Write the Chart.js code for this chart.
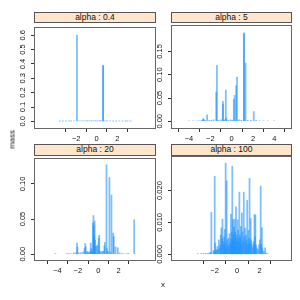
<!DOCTYPE html>
<html>
<head>
<meta charset="utf-8">
<script src="https://cdn.jsdelivr.net/npm/chart.js@4"></script>
<style>
  html, body { margin:0; padding:0; background:#fff; }
  #wrap { position:relative; width:300px; height:300px; overflow:hidden; font-family:"Liberation Sans", Arial, sans-serif; font-weight:normal; }
  canvas { position:absolute; }
  .strip { position:absolute; box-sizing:border-box; border:1px solid #555; background:#ffe5cc;
           font-size:8.5px; line-height:9px; text-align:center; color:#111; font-weight:normal; }
  .lab { position:absolute; font-size:8px; color:#111; font-weight:normal; }
</style>
</head>
<body>
<div id="wrap">
  <canvas id="c1"></canvas><canvas id="c2"></canvas><canvas id="c3"></canvas><canvas id="c4"></canvas>
  <div class="strip" id="s1">alpha : 0.4</div>
  <div class="strip" id="s2">alpha : 5</div>
  <div class="strip" id="s3">alpha : 20</div>
  <div class="strip" id="s4">alpha : 100</div>
  <div class="lab" id="ylab" style="left:0px; top:135px; width:24px; text-align:center; transform:rotate(-90deg);">mass</div>
  <div class="lab" id="xlab" style="left:158px; top:280px; width:10px; text-align:center;">x</div>
</div>
<script>
// ---- data ----
const panelTitles = ["alpha : 0.4", "alpha : 5", "alpha : 20", "alpha : 100"];

const xAlpha04 = [-3.6,-3.3,-3.0,-2.7,-2.5,-2.2,-1.92,-1.7,-1.5,-1.3,-1.1,-0.9,-0.7,-0.5,-0.3,-0.1,0.1,0.3,0.45,0.62,0.63,0.8,1.0,1.3,1.6,1.9,2.2,2.5,2.8,3.0,3.3];
const massAlpha04 = [0.002,0.002,0.002,0.003,0.002,0.003,0.600,0.003,0.004,0.003,0.004,0.006,0.004,0.005,0.004,0.005,0.004,0.005,0.004,0.390,0.386,0.003,0.002,0.003,0.002,0.002,0.003,0.002,0.002,0.002,0.002];

const xAlpha5 = [-4.0,-3.6,-3.2,-3.0,-2.8,-2.68,-2.62,-2.5,-2.3,-2.1,-1.9,-1.7,-1.45,-1.38,-1.2,-1.0,-0.83,-0.80,-0.65,-0.55,-0.50,-0.3,-0.1,0.05,0.2,0.28,0.42,0.5,0.7,0.9,1.15,1.16,1.3,1.5,1.8,2.07,2.3,2.6,3.0,3.4,4.0];
const massAlpha5 = [0.001,0.001,0.001,0.001,0.002,0.006,0.004,0.002,0.014,0.002,0.002,0.003,0.063,0.120,0.002,0.003,0.043,0.037,0.003,0.067,0.007,0.002,0.003,0.002,0.047,0.056,0.076,0.095,0.003,0.002,0.190,0.188,0.125,0.002,0.002,0.021,0.002,0.001,0.001,0.001,0.001];

const xAlpha20 = [-4.2,-3.1,-2.9,-2.7,-2.4,-2.2,-2.08,-2.04,-1.9,-1.7,-1.5,-1.35,-1.27,-1.22,-1.1,-1.0,-0.9,-0.8,-0.73,-0.68,-0.6,-0.52,-0.47,-0.44,-0.40,-0.35,-0.30,-0.25,-0.15,-0.05,0.05,0.1,0.15,0.25,0.4,0.5,0.6,0.66,0.81,0.86,0.95,1.1,1.2,1.3,1.47,1.53,1.7,1.92,2.1,2.3,2.5,2.8,3.0,3.53];
const massAlpha20 = [0.001,0.001,0.001,0.001,0.002,0.002,0.016,0.010,0.002,0.002,0.003,0.008,0.015,0.011,0.004,0.003,0.002,0.004,0.016,0.008,0.005,0.044,0.055,0.040,0.026,0.047,0.020,0.010,0.012,0.013,0.023,0.027,0.004,0.003,0.004,0.004,0.012,0.017,0.127,0.008,0.004,0.109,0.003,0.084,0.030,0.025,0.010,0.009,0.002,0.001,0.001,0.001,0.001,0.049];

const xAlpha100 = [-3.5,-3.2,-3.0,-2.8,-2.6,-2.45,-2.35,-2.29,-2.1,-2.05,-1.99,-1.95,-1.88,-1.82,-1.75,-1.7,-1.62,-1.55,-1.5,-1.45,-1.4,-1.35,-1.3,-1.25,-1.2,-1.15,-1.1,-1.05,-1.02,-0.98,-0.93,-0.88,-0.82,-0.78,-0.72,-0.68,-0.62,-0.58,-0.55,-0.5,-0.47,-0.43,-0.4,-0.37,-0.33,-0.28,-0.25,-0.22,-0.18,-0.14,-0.1,-0.05,0.0,0.05,0.08,0.12,0.16,0.2,0.25,0.3,0.33,0.37,0.42,0.48,0.52,0.59,0.64,0.7,0.75,0.8,0.84,0.89,0.94,1.0,1.05,1.1,1.14,1.2,1.25,1.3,1.38,1.45,1.5,1.54,1.58,1.62,1.68,1.75,1.85,1.95,2.02,2.09,2.14,2.2,2.25,2.35,2.48,2.55,2.7];
const massAlpha100 = [0.0002,0.0002,0.0002,0.0003,0.0003,0.0004,0.0006,0.0132,0.0012,0.0007,0.0245,0.0035,0.0012,0.0015,0.0025,0.0015,0.0045,0.0020,0.0030,0.0060,0.0083,0.0050,0.0110,0.0040,0.0030,0.0055,0.0078,0.0035,0.0286,0.0020,0.0230,0.0045,0.0030,0.0050,0.0025,0.0065,0.0035,0.0048,0.0125,0.0030,0.0070,0.0276,0.0045,0.0109,0.0060,0.0085,0.0040,0.0110,0.0070,0.0050,0.0149,0.0060,0.0040,0.0108,0.0075,0.0050,0.0038,0.0195,0.0060,0.0050,0.0087,0.0030,0.0130,0.0070,0.0040,0.0195,0.0055,0.0082,0.0035,0.0060,0.0045,0.0169,0.0030,0.0075,0.0050,0.0238,0.0035,0.0112,0.0045,0.0030,0.0020,0.0040,0.0030,0.0125,0.0055,0.0123,0.0030,0.0020,0.0015,0.0030,0.0045,0.0214,0.0030,0.0083,0.0020,0.0010,0.0020,0.0004,0.0002];

const xTicks04 = [-2, 0, 2];
const xTicks5 = [-4, -2, 0, 2, 4];
const xTicks20 = [-4, -2, 0, 2];
const xTicks100 = [-2, 0, 2];
const yTicks04 = [0, 0.1, 0.2, 0.3, 0.4, 0.5, 0.6];
const yLabels04 = ["0.0","0.1","0.2","0.3","0.4","0.5","0.6"];
const yTicks5 = [0, 0.05, 0.10, 0.15];
const yLabels5 = ["0.00","0.05","0.10","0.15"];
const yTicks20 = [0, 0.05, 0.10];
const yLabels20 = ["0.00","0.05","0.10"];
const yTicks100 = [0, 0.005, 0.010, 0.015, 0.020, 0.025];
const yLabels100 = ["0.000","","0.010","","0.020",""];

// ---- layout ----
const FONT = '"Liberation Sans", Arial, sans-serif';
const TICKFONT = 7.5;
const YW = 35, XH = 23, PT = 1, PR = 3, TL = 4;
const LABEL_CENTER_FROM_AXIS = 12; // px from plot edge to rotated label centre

const mctx = document.createElement('canvas').getContext('2d');
mctx.font = TICKFONT + 'px ' + FONT;
function widest(labels) { return Math.max.apply(null, labels.map(s => mctx.measureText(s).width)); }

const framePlugin = {
  id: 'frame',
  afterDraw(chart) {
    const a = chart.chartArea, ctx = chart.ctx;
    ctx.save();
    ctx.strokeStyle = '#666';
    ctx.lineWidth = 1;
    ctx.strokeRect(Math.round(a.left) - 0.5, Math.round(a.top) - 0.5,
                   Math.round(a.right - a.left) + 1, Math.round(a.bottom - a.top) + 1);
    ctx.restore();
  }
};

function panel(canvasId, stripId, box, xs, ms, xr, yr, xTicks, yTicks, yLabels) {
  const cv = document.getElementById(canvasId);
  const w = (box.r - box.l) + YW + PR, h = (box.b - box.t) + PT + XH;
  cv.width = w; cv.height = h;
  cv.style.left = (box.l - YW) + 'px';
  cv.style.top = (box.t - PT) + 'px';
  cv.style.width = w + 'px'; cv.style.height = h + 'px';
  const st = document.getElementById(stripId);
  st.style.left = (box.l - 1) + 'px';
  st.style.top = box.st + 'px';
  st.style.width = (box.r - box.l + 2) + 'px';
  st.style.height = (box.t - box.st + 1) + 'px';

  const yPad = LABEL_CENTER_FROM_AXIS - TL - widest(yLabels) / 2;

  new Chart(cv, {
    type: 'bar',
    data: {
      datasets: [{
        data: xs.map((x, i) => ({ x: x, y: ms[i] })),
        backgroundColor: 'rgba(30,144,255,0.58)',
        borderWidth: 0,
        barThickness: 1.1,
        grouped: false
      }]
    },
    options: {
      responsive: false,
      animation: false,
      events: [],
      layout: { padding: { top: PT, right: PR, left: 0, bottom: 0 } },
      plugins: { legend: { display: false }, tooltip: { enabled: false }, title: { display: false } },
      scales: {
        x: {
          type: 'linear', min: xr[0], max: xr[1],
          afterBuildTicks: s => { s.ticks = xTicks.map(v => ({ value: v })); },
          afterFit: s => { s.height = XH; },
          ticks: { color: '#111', font: { size: TICKFONT, family: FONT }, padding: 2, maxRotation: 0, minRotation: 0,
                   callback: v => (v < 0 ? '\u2212' + Math.abs(v) : String(v)) },
          grid: { drawOnChartArea: false, drawTicks: true, tickLength: TL, color: '#333' },
          border: { display: false }
        },
        y: {
          min: yr[0], max: yr[1],
          afterBuildTicks: s => { s.ticks = yTicks.map(v => ({ value: v })); },
          afterFit: s => { s.width = YW; },
          ticks: { color: '#111', font: { size: TICKFONT, family: FONT }, padding: yPad, minRotation: 90, maxRotation: 90,
                   crossAlign: 'center', callback: (v, i) => yLabels[i] },
          grid: { drawOnChartArea: false, drawTicks: true, tickLength: TL, color: '#333' },
          border: { display: false }
        }
      }
    },
    plugins: [framePlugin]
  });
}

panel('c1', 's1', { l: 35, r: 155, st: 12, t: 22, b: 128 }, xAlpha04, massAlpha04, [-4.06, 3.73], [-0.046, 0.648], xTicks04, yTicks04, yLabels04);
panel('c2', 's2', { l: 172, r: 291, st: 12, t: 22, b: 128 }, xAlpha5, massAlpha5, [-4.48, 4.45], [-0.0145, 0.2044], xTicks5, yTicks5, yLabels5);
panel('c3', 's3', { l: 35, r: 155, st: 144, t: 155, b: 260 }, xAlpha20, massAlpha20, [-4.73, 4.1], [-0.0082, 0.135], xTicks20, yTicks20, yLabels20);
panel('c4', 's4', { l: 172, r: 291, st: 144, t: 155, b: 260 }, xAlpha100, massAlpha100, [-4.02, 3.02], [-0.0018, 0.0305], xTicks100, yTicks100, yLabels100);
</script>
</body>
</html>
